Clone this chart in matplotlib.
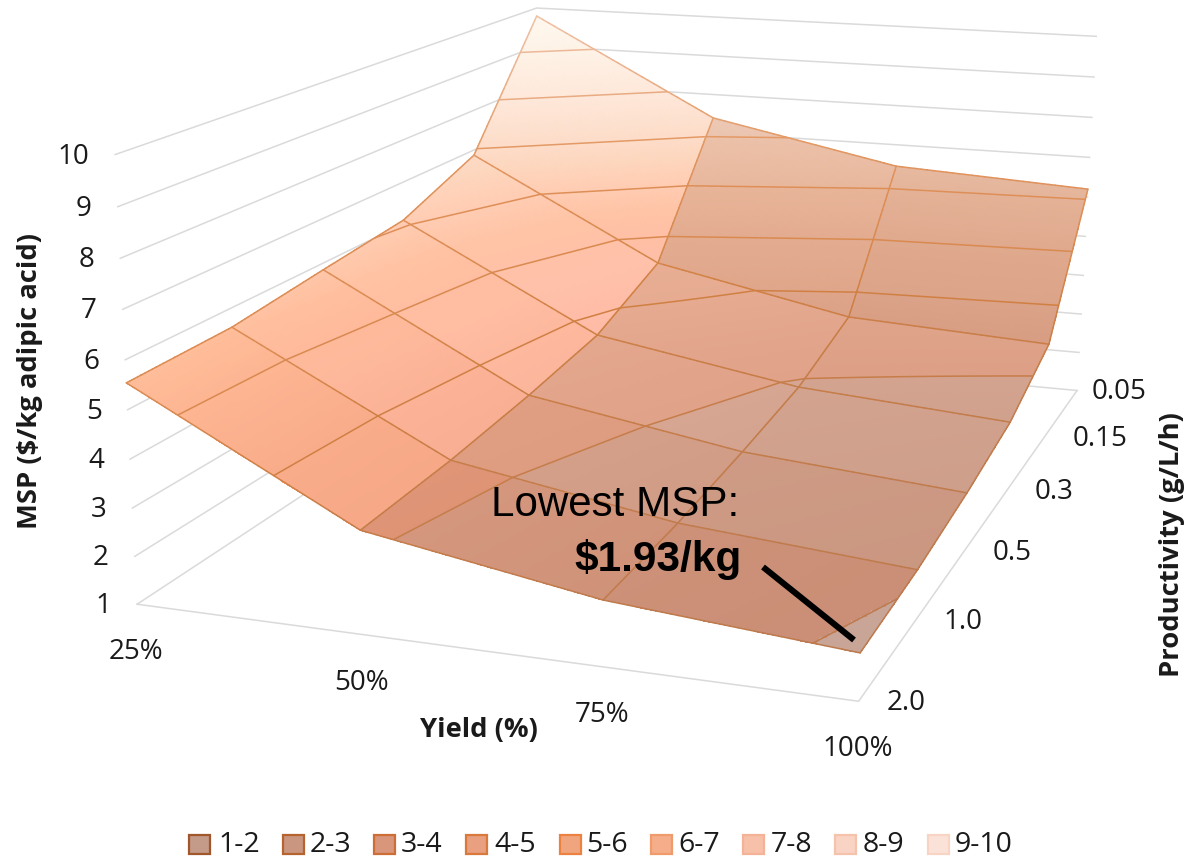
import numpy as np
import matplotlib
matplotlib.use("Agg")
import matplotlib.pyplot as plt
from matplotlib.collections import LineCollection
from matplotlib.colors import to_rgb
from matplotlib.patches import Rectangle

# Minimum selling price ($/kg adipic acid): one row per yield, one column per productivity
yield_labels = ["25%", "50%", "75%", "100%"]
productivity_labels = ["2.0", "1.0", "0.5", "0.3", "0.15", "0.05"]
msp_ticks = [1, 2, 3, 4, 5, 6, 7, 8, 9, 10]
msp_25 = [5.54, 5.59, 5.85, 6.09, 6.87, 9.79]
msp_50 = [3.11, 3.22, 3.43, 3.72, 4.49, 7.39]
msp_75 = [2.32, 2.43, 2.65, 2.93, 3.54, 6.45]
msp_100 = [1.93, 2.04, 2.27, 2.59, 3.30, 6.20]
legend_labels = ["1-2", "2-3", "3-4", "4-5", "5-6", "6-7", "7-8", "8-9", "9-10"]
legend_fill = ["#C49A88", "#CB9680", "#D9967A", "#E8A080", "#F0A57F", "#F5AD8A", "#F7C0A8", "#F9D3C3", "#FBE2D8"]
legend_edge = ["#A0572B", "#B5632F", "#CC6E35", "#D97A3C", "#EC8140", "#F09B6B", "#F4B296", "#F5C3AC", "#F8D4C4"]

Z = np.array([msp_25, msp_50, msp_75, msp_100])
N_YIELD, N_PROD = Z.shape
Z_MIN, Z_MAX = msp_ticks[0], msp_ticks[-1]

# Camera: homogeneous projection from the unit box to figure pixels
CAMERA = np.array([
    [644.739952, 602.739833, -27.389234, 137.121064],
    [34.317197, -136.531578, -457.02316, 604.218559],
    [-0.089442, 0.374987, -0.047431, 1.0],
])


def project(yi, pj, msp):
    """Map yield index, productivity index and MSP to figure pixels."""
    yi, pj, msp = np.broadcast_arrays(np.asarray(yi, float), np.asarray(pj, float), np.asarray(msp, float))
    bx = yi / (N_YIELD - 1)
    by = pj / (N_PROD - 1)
    bz = (msp - Z_MIN) / (Z_MAX - Z_MIN)
    h = [CAMERA[r, 0] * bx + CAMERA[r, 1] * by + CAMERA[r, 2] * bz + CAMERA[r, 3] for r in range(3)]
    return h[0] / h[2], h[1] / h[2]


def hexes(seq):
    return np.array([to_rgb(c) for c in seq])


# Facet shading: steep low-yield column is brightly lit, the others are more matte
LIT_Z = [1, 3, 4, 5, 5.5, 6, 6.5, 7, 8, 9, 10]
LIT = hexes(["#F09E80", "#F5A786", "#F9AC8A", "#FDB592", "#FFBC98", "#FFC8AB", "#FDD5BC", "#FDDCC8", "#FEE8DA", "#FEF2E6", "#FFF9F2"])
LIT_ROW_ADD = np.array([[0, 0, 0], [2, 6, 12], [4, 12, 20], [6, 16, 28], [4, 14, 25]]) / 255
MATTE_LOW = hexes(["#C6B0AA", "#CF9F8B", "#E0A288", "#E6AB90", "#EAB196", "#EFBDA3", "#F2CAB6", "#F6D8C9", "#FAE6DA"])
MATTE_HIGH = hexes(["#CEB8B2", "#D6A692", "#E5AA90", "#EAB196", "#EFBA9F", "#F3C7B0", "#F6D5C4", "#FAE2D6", "#FDEEE6"])
ROW_GAIN_MATTE = np.array([[.99, .91, .86], [.99, .96, .94], [1, 1, 1], [1, 1, 1], [.97, .97, .96]])
COLUMN_GAIN = [1.0, 1.0, 0.985]


def facet_colors(zc, col, row):
    if col == 0:
        out = np.stack([np.interp(zc, LIT_Z, LIT[:, k]) for k in range(3)], axis=-1)
        fade = np.clip((6.5 - zc) / 2, 0, 1)[..., None]
        return np.clip(out + LIT_ROW_ADD[row] * fade, 0, 1)
    band = np.clip(np.floor(zc).astype(int) - 1, 0, 8)
    t = (zc - np.floor(zc))[..., None]
    out = MATTE_LOW[band] * (1 - t) + MATTE_HIGH[band] * t
    return np.clip(out * ROW_GAIN_MATTE[row] * COLUMN_GAIN[col], 0, 1)


# Thin outlines take a tint from the local height
EDGE_Z = [1.9, 3, 4, 5, 6, 7, 8, 9, 10]
EDGE = hexes(["#BD7A4D", "#C67D4A", "#D08043", "#D98A50", "#DE8F58", "#E39A66", "#E8AB82", "#EDB898", "#F0C4A8"])


def edge_color(z):
    return [np.interp(z, EDGE_Z, EDGE[:, k]) for k in range(3)]


TEXT = "#1A1A1A"
TICK_FONT = "Open Sans"
GRID = "#DADADA"

fig = plt.figure(figsize=(11.89, 8.57), dpi=100)
ax = fig.add_axes([0, 0, 1, 1])
ax.set_xlim(0, 1189)
ax.set_ylim(857, 0)
ax.axis("off")

# Back walls and floor rim
for z in msp_ticks:
    xs, ys = project([0, 0, 3], [0, 5, 5], [z, z, z])
    ax.plot(xs, ys, color=GRID, lw=1.1, zorder=1, solid_joinstyle="miter")
xs, ys = project([0, 3, 3], [0, 0, 5], [1, 1, 1])
ax.plot(xs, ys, color=GRID, lw=1.1, zorder=1, solid_joinstyle="miter")

# Surface, shaded facet by facet
SUB = 48
for col in range(N_YIELD - 1):
    for row in range(N_PROD - 1):
        u = np.linspace(0, 1, SUB + 1)
        U, V = np.meshgrid(u, u, indexing="ij")
        zf = (Z[col, row] * (1 - U) * (1 - V) + Z[col + 1, row] * U * (1 - V)
              + Z[col, row + 1] * (1 - U) * V + Z[col + 1, row + 1] * U * V)
        X, Y = project(col + U, row + V, zf)
        zc = (zf[:-1, :-1] + zf[1:, :-1] + zf[:-1, 1:] + zf[1:, 1:]) / 4
        ax.pcolormesh(X, Y, facet_colors(zc, col, row), shading="flat", zorder=2,
                      edgecolors="none", antialiased=False)
        # Integer height contours
        levels = [lv for lv in range(2, 10) if zf.min() < lv < zf.max()]
        if levels:
            ax.contour(X, Y, zf, levels=levels, colors=[edge_color(lv) for lv in levels],
                       linewidths=1.1, zorder=3)

# Grid lines of the surface
segments, seg_colors = [], []
t = np.linspace(0, 1, 31)
for col in range(N_YIELD):
    for row in range(N_PROD - 1):
        zl = Z[col, row] * (1 - t) + Z[col, row + 1] * t
        px, py = project(col, row + t, zl)
        for a in range(len(t) - 1):
            segments.append([(px[a], py[a]), (px[a + 1], py[a + 1])])
            seg_colors.append(edge_color((zl[a] + zl[a + 1]) / 2))
for row in range(N_PROD):
    for col in range(N_YIELD - 1):
        zl = Z[col, row] * (1 - t) + Z[col + 1, row] * t
        px, py = project(col + t, row, zl)
        for a in range(len(t) - 1):
            segments.append([(px[a], py[a]), (px[a + 1], py[a + 1])])
            seg_colors.append(edge_color((zl[a] + zl[a + 1]) / 2))
ax.add_collection(LineCollection(segments, colors=seg_colors, linewidths=1.1, zorder=4, capstyle="round"))

# Tick labels
TICK_SIZE = 20
for z in msp_ticks:
    px, py = project(0, 0, z)
    ax.text(px - 26, py + 2, str(z), ha="right", va="center", fontsize=TICK_SIZE, color=TEXT, family=TICK_FONT)
for i, lab in enumerate(yield_labels):
    px, py = project(i, 0, Z_MIN)
    ax.text(px - 1, py + 48, lab, ha="center", va="center", fontsize=TICK_SIZE, color=TEXT, family=TICK_FONT)
PROD_LABEL_GAP = [28, 28, 28, 28, 28, 15]
for j, lab in enumerate(productivity_labels):
    px, py = project(N_YIELD - 1, j, Z_MIN)
    ax.text(px + PROD_LABEL_GAP[j], py + 2, lab, ha="left", va="center", fontsize=TICK_SIZE, color=TEXT, family=TICK_FONT)

# Axis titles
ax.text(30, 381, "MSP ($/kg adipic acid)", rotation=90, ha="center", va="center", fontsize=19.7,
        fontweight="bold", color=TEXT, family=TICK_FONT)
ax.text(479, 730, "Yield (%)", ha="center", va="center", fontsize=19.7, fontweight="bold", color=TEXT, family=TICK_FONT)
ax.text(1172, 545, "Productivity (g/L/h)", rotation=90, ha="center", va="center", fontsize=19.7,
        fontweight="bold", color=TEXT, family=TICK_FONT)

# Callout for the lowest price
ax.text(739, 516, "Lowest MSP:", ha="right", va="baseline", fontsize=30.3, color="black", family="Liberation Sans", zorder=6)
ax.text(742, 571, "$1.93/kg", ha="right", va="baseline", fontsize=30.5, fontweight="bold", color="black",
        family="Liberation Sans", zorder=6)
ax.plot([763, 854], [567, 640], color="black", lw=4.4, solid_capstyle="butt", zorder=6)

# Band legend
SWATCH_X = [189, 283, 374, 466, 560, 651, 743, 835, 928]
LABEL_X = [218, 310, 401, 494, 586, 678, 771, 863, 955]
for sx, lx, lab, fc, ec in zip(SWATCH_X, LABEL_X, legend_labels, legend_fill, legend_edge):
    ax.add_patch(Rectangle((sx, 835), 21, 19, facecolor=fc, edgecolor=ec, lw=1.6, zorder=5))
    ax.text(lx, 845, lab, ha="left", va="center", fontsize=20.5, color=TEXT, family=TICK_FONT)

fig.savefig("out.png", dpi=100, facecolor="white")
